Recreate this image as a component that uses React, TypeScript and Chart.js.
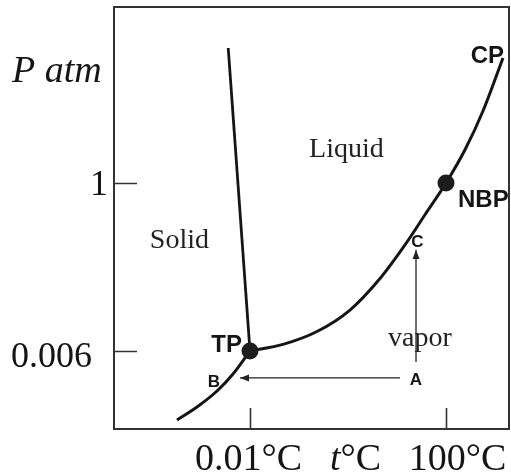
import { useEffect, useRef } from "react";
import { Chart, registerables } from "chart.js";

Chart.register(...registerables);

// Phase boundaries of water: temperature (°C) against pressure (atm)
const sublimationT = [-37.23, -27.03, -16.83, -8.66, 0.01];
const sublimationP = [0.000734, 0.00109, 0.001775, 0.00298, 0.006];
const vaporizationT = [0.01, 16.85, 34.19, 51.02, 66.33, 79.08, 89.28, 100, 109.69, 118.87, 129.07];
const vaporizationP = [0.006, 0.00734, 0.01086, 0.0209, 0.0546, 0.152, 0.38, 1, 2.75, 8.96, 45];
const fusionT = [0.01, -11.1];
const fusionP = [0.006, 61];

// Triple point and normal boiling point
const markerT = [0.01, 100];
const markerP = [0.006, 1];

// Paths from state A: cooling at constant pressure to B, compression at constant temperature to C
const pathABT = [76.5, -5.1];
const pathABP = [0.00264, 0.00264];
const pathACT = [84.7, 84.7];
const pathACP = [0.00429, 0.13];

// Axis ticks
const xTicks = [0.01, 100];
const xTickLabels = ["0.01°C", "100°C"];
const yTicks = [0.006, 1];
const yTickLabels = ["0.006", "1"];

// Axis ranges
const tMin = -69.37;
const tMax = 132.14;
const pMin = 5.58e-4;
const pMax = 212.6;

const SERIF = "'Liberation Serif', 'Times New Roman', serif";
const SANS = "'Liberation Sans', Arial, sans-serif";
const INK = "#151515";

const toXY = (ts: number[], ps: number[]) => ts.map((t, i) => ({ x: t, y: ps[i] }));

function put(ctx: CanvasRenderingContext2D, s: string, x: number, y: number, font: string, align: CanvasTextAlign) {
  ctx.font = font;
  ctx.textAlign = align;
  ctx.textBaseline = "alphabetic";
  ctx.fillText(s, x, y);
}

const phaseDecor = {
  id: "phaseDecor",
  afterDatasetsDraw(chart: any) {
    const ctx: CanvasRenderingContext2D = chart.ctx;
    chart.data.datasets.forEach((ds: any, i: number) => {
      if (!ds.arrow) return;
      const pts = chart.getDatasetMeta(i).data;
      const a = pts[pts.length - 2];
      const b = pts[pts.length - 1];
      const ang = Math.atan2(b.y - a.y, b.x - a.x);
      const len = 9;
      const half = 3.5;
      const c = Math.cos(ang);
      const s = Math.sin(ang);
      ctx.save();
      ctx.fillStyle = ds.borderColor;
      ctx.beginPath();
      ctx.moveTo(b.x, b.y);
      ctx.lineTo(b.x - len * c + half * s, b.y - len * s - half * c);
      ctx.lineTo(b.x - len * c - half * s, b.y - len * s + half * c);
      ctx.closePath();
      ctx.fill();
      ctx.restore();
    });
  },
  afterDraw(chart: any) {
    const ctx: CanvasRenderingContext2D = chart.ctx;
    const { left, right, top, bottom } = chart.chartArea;
    const xs = chart.scales.x;
    const ys = chart.scales.y;
    ctx.save();

    // frame
    ctx.strokeStyle = "#333";
    ctx.lineWidth = 2;
    ctx.strokeRect(left, top, right - left, bottom - top);

    // inward tick marks
    ctx.lineWidth = 1.6;
    ctx.beginPath();
    yTicks.forEach((v) => {
      const y = Math.round(ys.getPixelForValue(v)) + 0.5;
      ctx.moveTo(left, y);
      ctx.lineTo(left + 23, y);
    });
    xTicks.forEach((v) => {
      const x = Math.round(xs.getPixelForValue(v)) + 0.5;
      ctx.moveTo(x, bottom);
      ctx.lineTo(x, bottom - 21);
    });
    ctx.stroke();

    ctx.fillStyle = INK;

    // y tick labels
    const yDx = [-22, -6];
    const yDy = [16, 12];
    yTicks.forEach((v, i) => {
      put(ctx, yTickLabels[i], left + yDx[i], ys.getPixelForValue(v) + yDy[i], `36px ${SERIF}`, "right");
    });

    // x tick labels
    const xDx = [-1.5, 11.5];
    xTicks.forEach((v, i) => {
      put(ctx, xTickLabels[i], xs.getPixelForValue(v) + xDx[i], bottom + 41, `38px ${SERIF}`, "center");
    });

    // axis titles
    const xMid = (xs.getPixelForValue(xTicks[0]) + xs.getPixelForValue(xTicks[1])) / 2 + 7.5;
    ctx.font = `italic 38px ${SERIF}`;
    const wt = ctx.measureText("t").width;
    ctx.font = `38px ${SERIF}`;
    const wc = ctx.measureText("°C").width;
    const x0 = xMid - (wt + wc) / 2;
    put(ctx, "t", x0, bottom + 41, `italic 38px ${SERIF}`, "left");
    put(ctx, "°C", x0 + wt, bottom + 41, `38px ${SERIF}`, "left");
    put(ctx, "P atm", 12, 82, `italic 38px ${SERIF}`, "left");

    // phase regions
    const region = `28px ${SERIF}`;
    ctx.fillStyle = "#222";
    put(ctx, "Liquid", xs.getPixelForValue(49.2), ys.getPixelForValue(2.21), region, "center");
    put(ctx, "Solid", xs.getPixelForValue(-36), ys.getPixelForValue(0.138), region, "center");
    put(ctx, "vapor", xs.getPixelForValue(86.7), ys.getPixelForValue(0.00699), region, "center");

    // special points
    ctx.fillStyle = INK;
    const big = `bold 24px ${SANS}`;
    const small = `bold 17px ${SANS}`;
    const tpX = xs.getPixelForValue(markerT[0]);
    const tpY = ys.getPixelForValue(markerP[0]);
    put(ctx, "TP", tpX - 8, tpY + 1, big, "right");
    const nbX = xs.getPixelForValue(markerT[1]);
    const nbY = ys.getPixelForValue(markerP[1]);
    put(ctx, "NBP", nbX + 12, nbY + 24, big, "left");
    const cpX = xs.getPixelForValue(vaporizationT[vaporizationT.length - 1]);
    const cpY = ys.getPixelForValue(vaporizationP[vaporizationP.length - 1]);
    put(ctx, "CP", cpX + 1, cpY + 5, big, "right");

    const aX = xs.getPixelForValue(pathACT[0]);
    const aY = ys.getPixelForValue(pathABP[0]);
    put(ctx, "A", aX, aY + 7, small, "center");
    const bX = xs.getPixelForValue(pathABT[1]);
    put(ctx, "B", bX - 26, aY + 9, small, "center");
    const cY = ys.getPixelForValue(pathACP[1]);
    put(ctx, "C", aX + 1.5, cY - 3, small, "center");

    ctx.restore();
  },
};

export default function App() {
  const ref = useRef<HTMLCanvasElement | null>(null);

  useEffect(() => {
    if (!ref.current) return;
    const curve = (data: { x: number; y: number }[], width: number) => ({
      data,
      showLine: true,
      borderColor: INK,
      borderWidth: width,
      pointRadius: 0,
      cubicInterpolationMode: "monotone" as const,
      fill: false,
    });
    const chart = new Chart(ref.current, {
      type: "scatter",
      data: {
        datasets: [
          {
            data: toXY(markerT, markerP),
            pointRadius: 8.5,
            pointBackgroundColor: "#1c1c1c",
            pointBorderWidth: 0,
            showLine: false,
          } as any,
          curve(toXY(vaporizationT, vaporizationP), 3),
          curve(toXY(sublimationT, sublimationP), 3),
          { ...curve(toXY(fusionT, fusionP), 2.8), cubicInterpolationMode: "default", tension: 0 },
          { ...curve(toXY(pathABT, pathABP), 1.3), cubicInterpolationMode: "default", tension: 0, borderColor: "#222", arrow: true },
          { ...curve(toXY(pathACT, pathACP), 1.3), cubicInterpolationMode: "default", tension: 0, borderColor: "#222", arrow: true },
        ],
      },
      options: {
        animation: false,
        responsive: false,
        events: [],
        layout: { autoPadding: false, padding: { left: 114, top: 7, right: 2, bottom: 43 } },
        plugins: { legend: { display: false }, tooltip: { enabled: false } },
        scales: {
          x: { type: "linear", display: false, min: tMin, max: tMax },
          y: { type: "logarithmic", display: false, min: pMin, max: pMax },
        },
      },
      plugins: [phaseDecor],
    });
    return () => chart.destroy();
  }, []);

  return (
    <div style={{ position: "absolute", left: 0, top: 0, width: 511, height: 472 }}>
      <canvas ref={ref} width={511} height={472} style={{ display: "block" }} />
    </div>
  );
}
